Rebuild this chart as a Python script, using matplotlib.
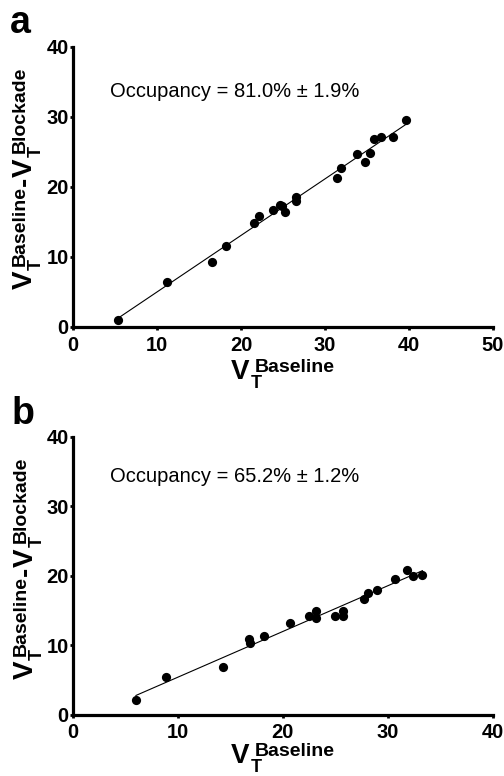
# coding utf-8
# Occupancy plots: VT baseline vs (baseline - blockade)

import matplotlib
matplotlib.use('Agg')
import matplotlib.pyplot as plt
import matplotlib.transforms as mtransforms
import numpy as np

plt.rcParams['font.family'] = ['Liberation Sans', 'DejaVu Sans']

# Panel a data
a_baseline = [5.4, 11.2, 16.5, 18.2, 21.6, 22.1, 23.8, 24.6, 24.9, 25.2, 26.5,
              26.6, 31.4, 31.9, 33.8, 34.8, 35.4, 35.8, 36.7, 38.1, 39.6]
a_diff = [0.9, 6.3, 9.2, 11.5, 14.8, 15.8, 16.7, 17.3, 17.2, 16.4, 18.5,
          17.9, 21.2, 22.7, 24.7, 23.5, 24.8, 26.8, 27.1, 27.1, 29.5]
a_xticks = [0, 10, 20, 30, 40, 50]
a_yticks = [0, 10, 20, 30, 40]
a_note = 'Occupancy = 81.0% \u00b1 1.9%'

# Panel b data
b_baseline = [6.0, 8.9, 14.3, 16.8, 16.9, 18.2, 20.7, 22.5, 23.2, 23.2, 25.0,
              25.7, 25.7, 27.7, 28.1, 29.0, 30.7, 31.8, 32.4, 33.3]
b_diff = [2.1, 5.4, 6.9, 10.9, 10.3, 11.3, 13.2, 14.2, 15.0, 13.9, 14.3,
          14.3, 15.0, 16.7, 17.6, 17.9, 19.6, 20.9, 20.0, 20.1]
b_xticks = [0, 10, 20, 30, 40]
b_yticks = [0, 10, 20, 30, 40]
b_note = 'Occupancy = 65.2% \u00b1 1.2%'

W, H = 504, 776
fig = plt.figure(figsize=(W / 100, H / 100), dpi=100)


def make_axes(left, right, top, bottom):
    # pixel box (from top-left) -> figure fractions
    return fig.add_axes([left / W, 1 - bottom / H, (right - left) / W, (bottom - top) / H])


def draw_panel(ax, xs, ys, xticks, yticks, note, note_y, xpad):
    ax.scatter(xs, ys, s=44, color='black', zorder=3, clip_on=False, linewidths=0)
    slope, icpt = np.polyfit(xs, ys, 1)
    xl = np.array([min(xs), max(xs)])
    ax.plot(xl, slope * xl + icpt, color='black', lw=0.8, zorder=2)
    ax.set_xlim(xticks[0], xticks[-1])
    ax.set_ylim(yticks[0], yticks[-1])
    ax.set_xticks(xticks)
    ax.set_yticks(yticks)
    for side in ['top', 'right']:
        ax.spines[side].set_visible(False)
    for side in ['left', 'bottom']:
        ax.spines[side].set_linewidth(2.3)
    ax.tick_params(direction='out', length=2, width=2, labelsize=14.5)
    ax.tick_params(axis='x', pad=xpad)
    ax.tick_params(axis='y', pad=1.2)
    for lab in ax.get_xticklabels() + ax.get_yticklabels():
        lab.set_fontweight('bold')
    ax.text(0.088, note_y, note, transform=ax.transAxes, fontsize=14.5,
            ha='left', va='baseline')


ax_a = make_axes(73, 493, 46.7, 326.5)
draw_panel(ax_a, a_baseline, a_diff, a_xticks, a_yticks, a_note, 0.822, 4.5)
ax_b = make_axes(73, 492.7, 436.7, 715)
draw_panel(ax_b, b_baseline, b_diff, b_xticks, b_yticks, b_note, 0.838, 3.5)

fig.text(10 / W, 1 - 33 / H, 'a', fontsize=27, fontweight='bold', va='baseline')
fig.text(12 / W, 1 - 424 / H, 'b', fontsize=27, fontweight='bold', va='baseline')

# composite labels with big V, subscript T and superscript words
MAIN, SUB, SUP = 20, 13, 14
SUP_SHIFT, SUB_SHIFT = 7, -9
ident = mtransforms.IdentityTransform()
fig.canvas.draw()
renderer = fig.canvas.get_renderer()


def composite(groups, rot, anchor, centre_along):
    pieces = []  # (artist, along, across)
    along = 0.0

    def put(txt, size):
        t = fig.text(0, 0, txt, fontsize=size, fontweight='bold', transform=ident,
                     rotation=rot, rotation_mode='anchor', ha='left', va='baseline')
        bb = t.get_window_extent(renderer)
        return t, (bb.height if rot else bb.width)

    for main, sub, sup in groups:
        t, w = put(main, MAIN)
        pieces.append((t, along, 0))
        along += w
        adv = 0
        if sub:
            t, w = put(sub, SUB)
            pieces.append((t, along + 1, SUB_SHIFT))
            adv = max(adv, w + 1)
        if sup:
            t, w = put(sup, SUP)
            pieces.append((t, along + 5, SUP_SHIFT))
            adv = max(adv, w + 5)
        along += adv
    start = centre_along - along / 2
    for t, al, ac in pieces:
        if rot:
            t.set_position((anchor - ac, start + al))
        else:
            t.set_position((start + al, anchor + ac))


xlab = [('V', 'T', 'Baseline')]
ylab = [('V', 'T', 'Baseline'), ('-', None, None), ('V', 'T', 'Blockade')]

# panel a labels
composite(xlab, 0, H - 379, 283)
composite(ylab, 90, 32, H - 178)
# panel b labels
composite(xlab, 0, H - 763, 283)
composite(ylab, 90, 33, H - 568)

fig.savefig('out.png', dpi=100)
